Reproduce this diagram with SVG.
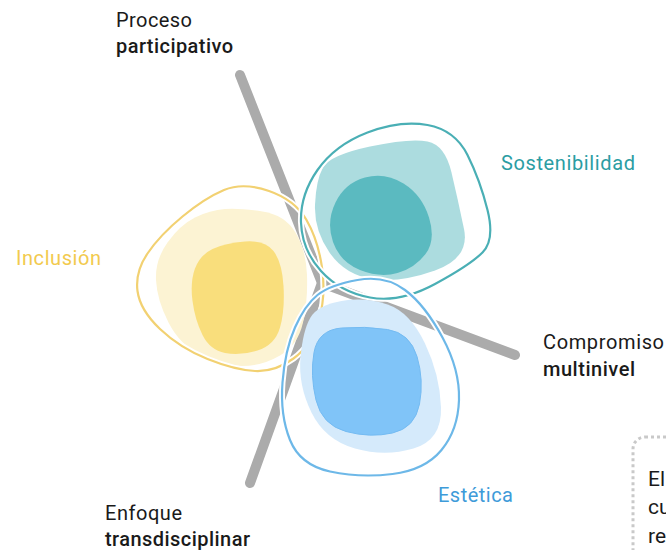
<svg xmlns="http://www.w3.org/2000/svg" width="666" height="550" viewBox="0 0 666 550">
<style>
text{font-family:Roboto,"Liberation Sans",sans-serif;font-size:20px;fill:#1a1a1a}
.b{font-weight:500}
.n{font-size:21px}
.axis{fill:none;stroke:#ABABAB;stroke-width:10;stroke-linecap:round;stroke-linejoin:round}
.halo{fill:none;stroke:#fff;stroke-width:6}
.ring{fill:none;stroke-width:2.2}
</style>
<rect width="666" height="550" fill="#fff"/>
<g id="connectors">
<path class="axis" d="M240,75 L322,283 L515,355"/>
<path class="axis" d="M322,283 L250,483"/>
</g>
<g id="inclusion">
<path fill="#FCF3D3" d="M262.5,211.5 Q285,215 295.5,232.5 Q306,250 307,275 Q308,300 303,322.5 Q298,345 280,355.5 Q262,366 242,366 Q222,366 201,355.5 Q180,345 168.5,322.5 Q157,300 156,280 Q155,260 167.5,242.5 Q180,225 195,217.5 Q210,210 225,209 Q240,208 262.5,211.5Z"/>
<path fill="#F9DE7C" d="M245,241.5 Q265,240 273.5,251 Q282,262 283.5,286 Q285,310 280,327.5 Q275,345 257.5,350.5 Q240,356 225,353 Q210,350 202.5,335 Q195,320 192.5,301 Q190,282 195,268.5 Q200,255 212.5,249 Q225,243 245,241.5Z"/>
<path class="halo" d="M269,191 Q295,200 306.5,220 Q318,240 322,267.5 Q326,295 319,320 Q312,345 293.5,358.5 Q275,372 255,371 Q235,370 207.5,359 Q180,348 160,329 Q140,310 137.5,291 Q135,272 147.5,253.5 Q160,235 182.5,216.5 Q205,198 224,190 Q243,182 269,191Z"/>
<path class="ring" stroke="#F2D172" d="M269,191 Q295,200 306.5,220 Q318,240 322,267.5 Q326,295 319,320 Q312,345 293.5,358.5 Q275,372 255,371 Q235,370 207.5,359 Q180,348 160,329 Q140,310 137.5,291 Q135,272 147.5,253.5 Q160,235 182.5,216.5 Q205,198 224,190 Q243,182 269,191Z"/>
<text x="16" y="265" style="fill:#F2CA4E" textLength="85">Inclusión</text>
</g>
<g id="sostenibilidad">
<path fill="#ACDCDF" d="M370,146.5 Q410,138 427.5,141.5 Q445,145 451.5,172.5 Q458,200 464,229 Q470,258 435,270.5 Q400,283 372.5,279 Q345,275 329.5,252.5 Q314,230 315,205 Q316,180 323,167.5 Q330,155 370,146.5Z"/>
<path fill="#5BBAC0" d="M365,177.5 Q385,172 403.5,183.5 Q422,195 429,217.5 Q436,240 425.5,254 Q415,268 397.5,273 Q380,278 360,270 Q340,262 333,242 Q326,222 335.5,202.5 Q345,183 365,177.5Z"/>
<path class="halo" d="M367.5,132.5 Q400,120 427.5,125 Q455,130 467.5,155 Q480,180 487.5,210 Q495,240 482.5,252.5 Q470,265 435,284 Q400,303 370,297.5 Q340,292 321,271 Q302,250 301,222.5 Q300,195 317.5,170 Q335,145 367.5,132.5Z"/>
<path class="ring" stroke="#4AAFB5" d="M367.5,132.5 Q400,120 427.5,125 Q455,130 467.5,155 Q480,180 487.5,210 Q495,240 482.5,252.5 Q470,265 435,284 Q400,303 370,297.5 Q340,292 321,271 Q302,250 301,222.5 Q300,195 317.5,170 Q335,145 367.5,132.5Z"/>
<text x="501" y="170" style="fill:#2B9DA3" textLength="134">Sostenibilidad</text>
</g>
<g id="estetica">
<path fill="#D5EAFB" d="M341.5,301 Q365,297 387.5,304.5 Q410,312 425,343.5 Q440,375 441,407.5 Q442,440 413.5,448.5 Q385,457 355,448.5 Q325,440 311.5,412.5 Q298,385 300.5,357.5 Q303,330 310.5,317.5 Q318,305 341.5,301Z"/>
<path fill="#80C4F8" stroke="#74BBF2" stroke-width="1" d="M341.5,328 Q365,326 387.5,329.5 Q410,333 417,356.5 Q424,380 419.5,404 Q415,428 392.5,433 Q370,438 346,431.5 Q322,425 316,400 Q310,375 314,352.5 Q318,330 341.5,328Z"/>
<path class="halo" d="M357.5,280 Q385,275 405,290 Q425,305 442.5,337.5 Q460,370 459,400 Q458,430 441.5,450 Q425,470 392.5,474 Q360,478 330,471.5 Q300,465 290,440 Q280,415 282.5,382.5 Q285,350 295,327.5 Q305,305 317.5,295 Q330,285 357.5,280Z"/>
<path class="ring" stroke="#6DB8E8" d="M357.5,280 Q385,275 405,290 Q425,305 442.5,337.5 Q460,370 459,400 Q458,430 441.5,450 Q425,470 392.5,474 Q360,478 330,471.5 Q300,465 290,440 Q280,415 282.5,382.5 Q285,350 295,327.5 Q305,305 317.5,295 Q330,285 357.5,280Z"/>
<text x="438" y="502" style="fill:#3E9BD9" textLength="75">Estética</text>
</g>
<g id="label-proceso">
<text x="116" y="27" textLength="76">Proceso</text>
<text x="116" y="53" class="b" textLength="117">participativo</text>
</g>
<g id="label-compromiso">
<text x="543" y="349" textLength="121">Compromiso</text>
<text x="543" y="376" class="b" textLength="92">multinivel</text>
</g>
<g id="label-enfoque">
<text x="105" y="520" textLength="77">Enfoque</text>
<text x="105" y="546" class="b" textLength="145">transdisciplinar</text>
</g>
<g id="note">
<rect x="633" y="437" width="80" height="150" rx="12" fill="none" stroke="#C9C9C9" stroke-width="3" stroke-dasharray="3 3"/>
<text class="n" x="648" y="486">El</text>
<text class="n" x="648" y="514">cu</text>
<text class="n" x="648" y="543">re</text>
</g>
</svg>
